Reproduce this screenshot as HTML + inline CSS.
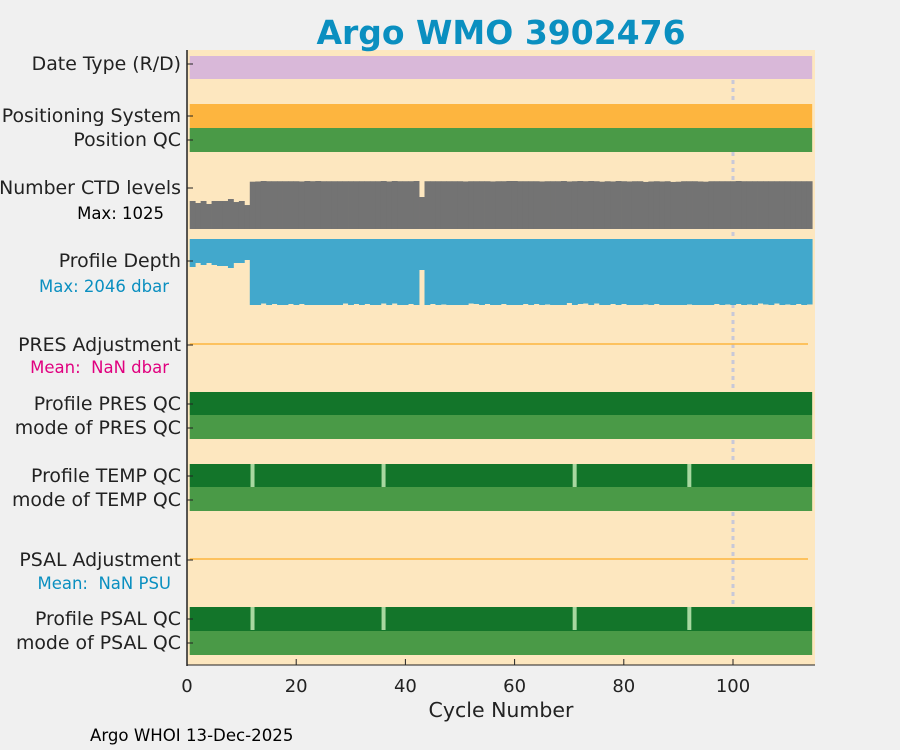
<!DOCTYPE html>
<html><head><meta charset="utf-8"><style>
body{margin:0;background:#f0f0f0;font-family:"DejaVu Sans","Liberation Sans",sans-serif}
svg{display:block}
</style></head><body>
<svg id="c" width="900" height="750" xmlns="http://www.w3.org/2000/svg"></svg>
<script>
const cycles=[];for(let i=1;i<=114;i++)cycles.push(i);
const ctdLevels=[598,555,598,534,598,598,598,640,576,598,512,
1010,1015,1025,1020,1020,1020,1020,1020,1020,1015,1025,1020,1025,1020,1020,1020,1020,1020,1020,1020,1020,1020,1020,1020,1025,1015,1025,1020,1020,1020,1025,683,
1020,1020,1020,1020,1020,1020,1020,1015,1020,1020,1020,1020,1015,1020,1020,1025,1025,1020,1020,1020,1020,1015,1020,1020,1020,1025,1015,1020,1025,1020,1025,1020,1010,1020,1015,1025,1020,1015,1020,1020,1005,1015,1020,1015,1020,1005,1010,1020,1020,1020,1015,1010,1020,1020,1020,1020,1020,1025,1020,1020,1020,1020,1020,1020,1020,1020,1020,1020,1020,1020,1020,1020];
const profDepth=[868,744,806,744,806,837,837,899,744,744,651,
2046,2046,2000,2046,2015,2046,2046,2015,2046,2015,2046,2046,2046,2046,2046,2046,2046,2000,2046,2015,2046,2015,2046,2046,2000,2046,2000,2046,2046,2015,2046,961,
2046,2015,2046,2030,2046,2046,2046,2046,2000,2015,2046,2015,2046,2046,2015,2046,2046,2046,2015,2046,2015,2046,2030,2046,2046,2046,1984,2046,2015,2000,2046,2000,2046,2046,2015,2046,2015,2046,2046,2046,2030,2046,2015,2046,2046,2046,2046,2046,2030,2046,2046,2046,2046,2015,2046,2030,2046,2015,2046,2030,2046,2000,2030,2046,2000,2046,2030,2046,2015,2046,2030];
const qcGaps=[12,36,71,92];
const xTicks=[0,20,40,60,80,100];
const ctdMax=1025, depthMax=2046;

const svg=document.getElementById('c');
const NS='http://www.w3.org/2000/svg';
function el(t,a,p){const e=document.createElementNS(NS,t);for(const k in a)e.setAttribute(k,a[k]);(p||svg).appendChild(e);return e;}
const x0=187, pxPer=5.46;
const X=c=>x0+c*pxPer;
const L=X(0.5), R=X(114.5);

let bg=el('rect',{x:187,y:50,width:628,height:615,fill:'#fde7bf'});

let dl=el('line',{x1:X(100),x2:X(100),y1:56,y2:605,stroke:'#c8c8d8','stroke-width':3,'stroke-dasharray':'4,4'});


function band(name,y,h,color){const r=el('rect',{x:L,y:y,width:R-L,height:h,fill:color});
}
band('date-type-bar',56,23,'#d9b8d9');
band('positioning-system-bar',104,24,'#fdb53f');
band('position-qc-bar',128,24,'#4a9a47');
band('profile-pres-qc-bar',392,23,'#13752a');
band('mode-pres-qc-bar',415,24,'#4a9a47');
band('profile-temp-qc-bar',464,23,'#13752a');
band('mode-temp-qc-bar',487,24,'#4a9a47');
band('profile-psal-qc-bar',607,24,'#13752a');
band('mode-psal-qc-bar',631,24,'#4a9a47');
[464,607].forEach(y=>qcGaps.forEach(c=>{const g=el('rect',{x:X(c)-2,y:y,width:4,height:23,fill:'#a8d8a0'});
}));

const ctdTop=181,ctdH=48;
cycles.forEach((c,i)=>{const h=ctdLevels[i]/ctdMax*ctdH;
const r=el('rect',{x:X(c-0.5),y:ctdTop+ctdH-h,width:pxPer+0.4,height:h,fill:'#737373'});
});
const dTop=239,dH=66;
cycles.forEach((c,i)=>{const h=profDepth[i]/depthMax*dH;
const r=el('rect',{x:X(c-0.5),y:dTop,width:pxPer+0.4,height:h,fill:'#42a8cc'});
});
[344,559].forEach((y,i)=>{const l=el('line',{x1:L,x2:808,y1:y,y2:y,stroke:'#fdb53f','stroke-width':1.5});
});

let ax=el('line',{x1:187,x2:187,y1:50,y2:666,stroke:'#222','stroke-width':1.5});

let bx=el('line',{x1:187,x2:815,y1:665,y2:665,stroke:'#222','stroke-width':1});

xTicks.forEach(t=>{const tk=el('line',{x1:X(t),x2:X(t),y1:665,y2:659,stroke:'#222'});

const tx=el('text',{x:X(t),y:692,'text-anchor':'middle','font-size':18,fill:'#222'});tx.textContent=t;
});

const labels=[['Date Type (R/D)',70],['Positioning System',122],['Position QC',146],['Number CTD levels',194],['Profile Depth',267],['PRES Adjustment',351],['Profile PRES QC',410],['mode of PRES QC',434],['Profile TEMP QC',482],['mode of TEMP QC',506],['PSAL Adjustment',566],['Profile PSAL QC',625],['mode of PSAL QC',649]];
labels.forEach(([t,y])=>{const tx=el('text',{x:181,y:y,'text-anchor':'end','font-size':18.9,fill:'#222'});tx.textContent=t;

const tk=el('line',{x1:187,x2:193,y1:y-6,y2:y-6,stroke:'#222'});});
const subs=[['Max: 1025',164,219,'#000'],['Max: 2046 dbar',169,292,'#0a8fc0'],['Mean:\u00a0\u00a0NaN dbar',169,373,'#e0007f'],['Mean:\u00a0\u00a0NaN PSU',171,589,'#0a8fc0']];
subs.forEach(([t,x,y,c])=>{const tx=el('text',{x:x,y:y,'text-anchor':'end','font-size':16.5,fill:c});tx.textContent=t;
});

let ti=el('text',{x:501,y:44,'text-anchor':'middle','font-size':33,'font-weight':'bold',fill:'#0a8fc0'});ti.textContent='Argo WMO 3902476';

let xl=el('text',{x:501,y:717,'text-anchor':'middle','font-size':20.5,fill:'#222'});xl.textContent='Cycle Number';

let ft=el('text',{x:90,y:741,'font-size':16.6,fill:'#000'});ft.textContent='Argo WHOI 13-Dec-2025';

</script>
</body></html>
